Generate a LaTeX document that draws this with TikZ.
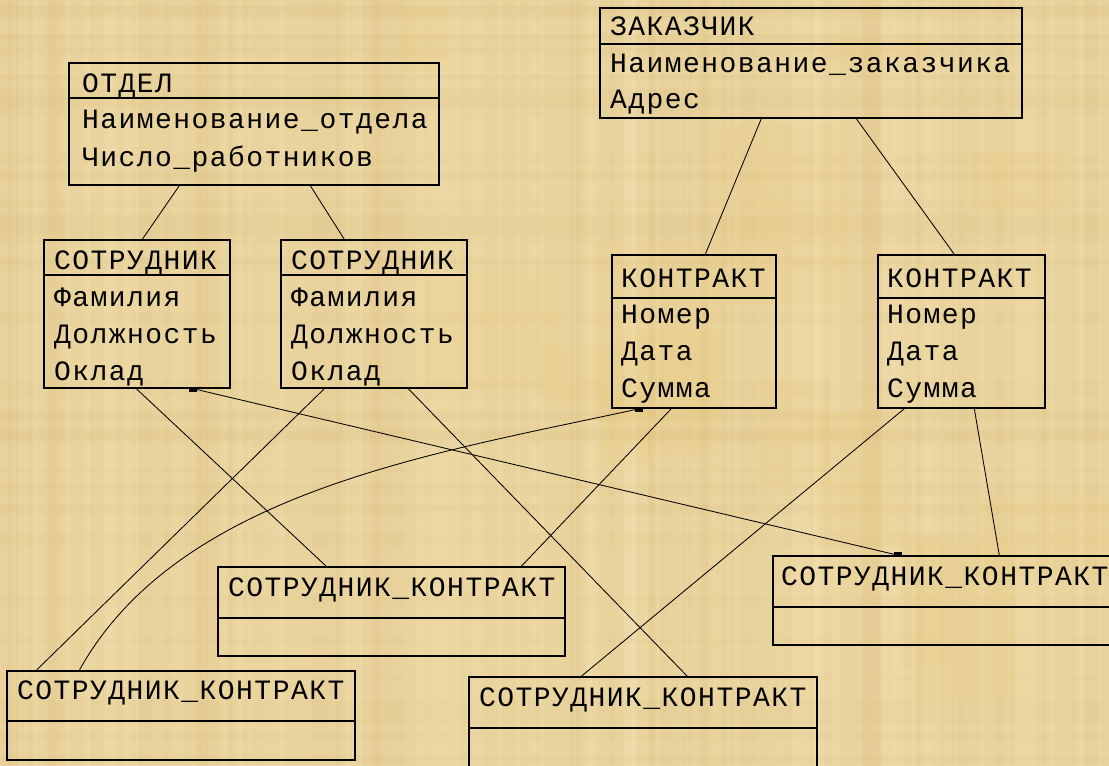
\documentclass[tikz,border=0pt]{standalone}
\usepackage{fontspec}
\usetikzlibrary{calc,fit}
\newfontfamily\entfont[LetterSpace=5.2]{Liberation Mono}

\definecolor{parchment}{HTML}{EAD49E}
\definecolor{parchdark}{HTML}{D8BB78}
\definecolor{parchlight}{HTML}{F6E6BC}
\definecolor{parchyellow}{HTML}{E8C668}

\tikzset{
  entbox/.style={draw=black, line width=1.4pt, inner sep=0pt},
  divider/.style={draw=black, line width=1.4pt},
  lbl/.style={anchor=base west, inner sep=0pt, font=\entfont\fontsize{28}{28}\selectfont},
  link/.style={draw=black, line width=0.85pt},
  endmark/.style={fill=black}
}

% an entity box: name, left, top, right, bottom, y of the header divider
\newcommand{\erbox}[6]{%
  \node[entbox, fit={(#2,#3) (#4,#5)}] (#1) {};
  \draw[divider] (#2,#6) -- (#4,#6);
}

\begin{document}
\begin{tikzpicture}[x=1pt, y=-1pt]
  \useasboundingbox (0,0) rectangle (1109,766);
  \clip (0,0) rectangle (1109,766);

  % parchment background
  \fill[parchment] (0,0) rectangle (1109,766);
  \pgfmathsetseed{11}
  \foreach \i in {1,...,70}{
    \pgfmathsetmacro\xx{rnd*1109}
    \pgfmathsetmacro\ww{2+rnd*18}
    \fill[parchdark, opacity=0.10] (\xx,0) rectangle ++(\ww,766);
  }
  \foreach \i in {1,...,70}{
    \pgfmathsetmacro\xx{rnd*1109}
    \pgfmathsetmacro\ww{2+rnd*14}
    \fill[parchlight, opacity=0.18] (\xx,0) rectangle ++(\ww,766);
  }
  \foreach \i in {1,...,50}{
    \pgfmathsetmacro\yy{rnd*766}
    \pgfmathsetmacro\hh{2+rnd*14}
    \fill[parchdark, opacity=0.08] (0,\yy) rectangle ++(1109,\hh);
  }
  \foreach \i in {1,...,14}{
    \pgfmathsetmacro\xx{rnd*1050}
    \pgfmathsetmacro\yy{rnd*720}
    \pgfmathsetmacro\ww{30+rnd*120}
    \pgfmathsetmacro\hh{30+rnd*150}
    \fill[parchyellow, opacity=0.10] (\xx,\yy) rectangle ++(\ww,\hh);
  }

  % entities
  \erbox{otdel}{69}{63}{439}{185}{98}
  \node[lbl] (otdel-h)  at (82,92)  {ОТДЕЛ};
  \node[lbl] (otdel-r1) at (82,128) {Наименование\_отдела};
  \node[lbl] (otdel-r2) at (82,166) {Число\_работников};

  \erbox{sotr1}{44}{240}{230}{388}{275}
  \node[lbl] (sotr1-h)  at (54,269) {СОТРУДНИК};
  \node[lbl] (sotr1-r1) at (54,306) {Фамилия};
  \node[lbl] (sotr1-r2) at (54,343) {Должность};
  \node[lbl] (sotr1-r3) at (54,380) {Оклад};

  \erbox{sotr2}{281}{240}{467}{388}{275}
  \node[lbl] (sotr2-h)  at (291,269) {СОТРУДНИК};
  \node[lbl] (sotr2-r1) at (291,306) {Фамилия};
  \node[lbl] (sotr2-r2) at (291,343) {Должность};
  \node[lbl] (sotr2-r3) at (291,380) {Оклад};

  \erbox{zak}{600}{8}{1022}{118}{44}
  \node[lbl] (zak-h)  at (610,35)  {ЗАКАЗЧИК};
  \node[lbl] (zak-r1) at (610,72)  {Наименование\_заказчика};
  \node[lbl] (zak-r2) at (610,108) {Адрес};

  \erbox{kon1}{612}{255}{776}{408}{298}
  \node[lbl] (kon1-h)  at (621,287) {КОНТРАКТ};
  \node[lbl] (kon1-r1) at (621,323) {Номер};
  \node[lbl] (kon1-r2) at (621,360) {Дата};
  \node[lbl] (kon1-r3) at (621,397) {Сумма};

  \erbox{kon2}{878}{255}{1045}{408}{298}
  \node[lbl] (kon2-h)  at (887,287) {КОНТРАКТ};
  \node[lbl] (kon2-r1) at (887,323) {Номер};
  \node[lbl] (kon2-r2) at (887,360) {Дата};
  \node[lbl] (kon2-r3) at (887,397) {Сумма};

  \erbox{sk1}{218}{567}{565}{656}{618}
  \node[lbl] (sk1-h) at (228,596) {СОТРУДНИК\_КОНТРАКТ};

  \erbox{sk2}{7}{671}{355}{760}{721}
  \node[lbl] (sk2-h) at (17,699) {СОТРУДНИК\_КОНТРАКТ};

  \erbox{sk3}{469}{677}{817}{790}{728}
  \node[lbl] (sk3-h) at (479,706) {СОТРУДНИК\_КОНТРАКТ};

  \erbox{sk4}{773}{556}{1125}{645}{607}
  \node[lbl] (sk4-h) at (781,585) {СОТРУДНИК\_КОНТРАКТ};

  % relationships
  \draw[link] ($(otdel.south west)+(111,0)$) -- ($(sotr1.north west)+(99,0)$);
  \draw[link] ($(otdel.south west)+(242,0)$) -- ($(sotr2.north west)+(64,0)$);
  \draw[link] ($(zak.south west)+(162,0)$) -- ($(kon1.north west)+(94,0)$);
  \draw[link] ($(zak.south west)+(257,0)$) -- ($(kon2.north west)+(77,0)$);

  \draw[link] ($(sotr1.south west)+(93,0)$)  -- ($(sk1.north west)+(109,0)$);
  \draw[link] ($(sotr2.south west)+(44,0)$)  -- ($(sk2.north west)+(30,0)$);
  \draw[link] ($(sotr2.south west)+(128,0)$) -- ($(sk3.north west)+(219,0)$);
  \draw[link] ($(sotr1.south west)+(150,0)$) -- ($(sk4.north west)+(126,0)$);

  \draw[link] ($(kon1.south west)+(28,0)$) .. controls ($(kon1.south west)+(-172,44)$)
    and ($(sk2.north west)+(173,-180)$) .. ($(sk2.north west)+(73,0)$);
  \draw[link] ($(kon1.south west)+(60,0)$)  -- ($(sk1.north west)+(304,0)$);
  \draw[link] ($(kon2.south west)+(27,0)$)  -- ($(sk3.north west)+(113,0)$);
  \draw[link] ($(kon2.south west)+(97,0)$)  -- ($(sk4.north west)+(227,0)$);

  % many-side end marks
  \fill[endmark] ($(sotr1.south west)+(146,0)$) rectangle ++(8,3);
  \fill[endmark] ($(sk4.north west)+(122,0)$)  rectangle ++(8,-3);
  \fill[endmark] ($(kon1.south west)+(24,0)$)  rectangle ++(8,3);
\end{tikzpicture}
\end{document}
